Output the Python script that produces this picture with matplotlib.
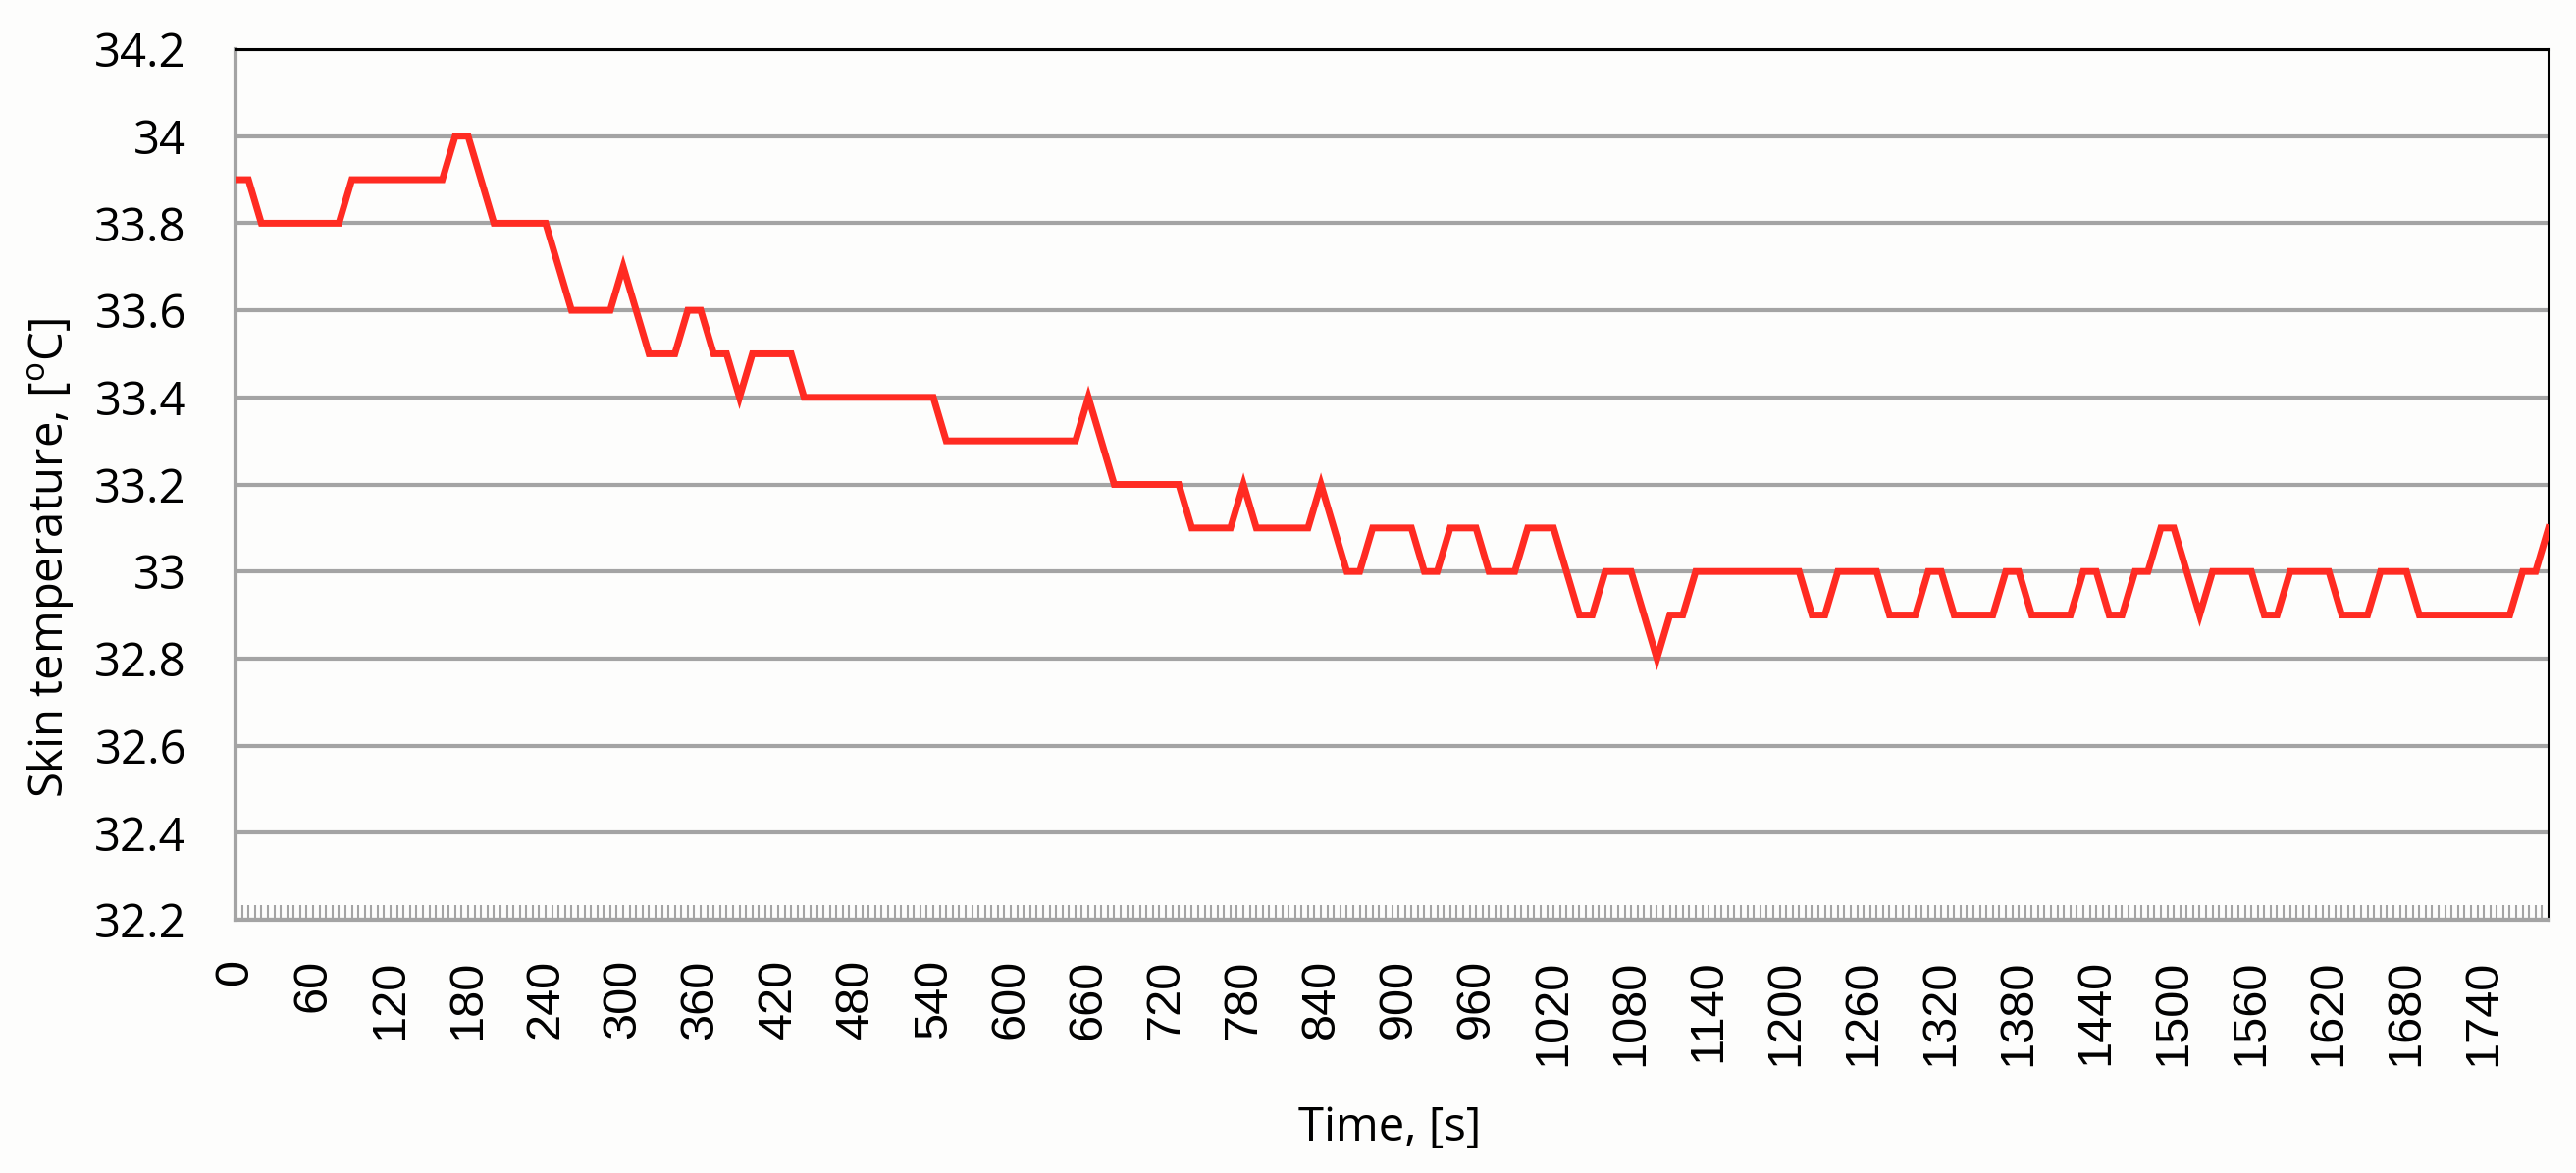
import numpy as np
import matplotlib
matplotlib.use('Agg')
import matplotlib.pyplot as plt

# skin temperature, one reading every 10 s (0 ... 1790 s)
time_s = list(range(0, 1800, 10))
temp_c = [
    33.9, 33.9, 33.8, 33.8, 33.8, 33.8,   # 0-50
    33.8, 33.8, 33.8, 33.9, 33.9, 33.9,   # 60-110
    33.9, 33.9, 33.9, 33.9, 33.9, 34.0,   # 120-170
    34.0, 33.9, 33.8, 33.8, 33.8, 33.8,   # 180-230
    33.8, 33.7, 33.6, 33.6, 33.6, 33.6,   # 240-290
    33.7, 33.6, 33.5, 33.5, 33.5, 33.6,   # 300-350
    33.6, 33.5, 33.5, 33.4, 33.5, 33.5,   # 360-410
    33.5, 33.5, 33.4, 33.4, 33.4, 33.4,   # 420-470
    33.4, 33.4, 33.4, 33.4, 33.4, 33.4,   # 480-530
    33.4, 33.3, 33.3, 33.3, 33.3, 33.3,   # 540-590
    33.3, 33.3, 33.3, 33.3, 33.3, 33.3,   # 600-650
    33.4, 33.3, 33.2, 33.2, 33.2, 33.2,   # 660-710
    33.2, 33.2, 33.1, 33.1, 33.1, 33.1,   # 720-770
    33.2, 33.1, 33.1, 33.1, 33.1, 33.1,   # 780-830
    33.2, 33.1, 33.0, 33.0, 33.1, 33.1,   # 840-890
    33.1, 33.1, 33.0, 33.0, 33.1, 33.1,   # 900-950
    33.1, 33.0, 33.0, 33.0, 33.1, 33.1,   # 960-1010
    33.1, 33.0, 32.9, 32.9, 33.0, 33.0,   # 1020-1070
    33.0, 32.9, 32.8, 32.9, 32.9, 33.0,   # 1080-1130
    33.0, 33.0, 33.0, 33.0, 33.0, 33.0,   # 1140-1190
    33.0, 33.0, 32.9, 32.9, 33.0, 33.0,   # 1200-1250
    33.0, 33.0, 32.9, 32.9, 32.9, 33.0,   # 1260-1310
    33.0, 32.9, 32.9, 32.9, 32.9, 33.0,   # 1320-1370
    33.0, 32.9, 32.9, 32.9, 32.9, 33.0,   # 1380-1430
    33.0, 32.9, 32.9, 33.0, 33.0, 33.1,   # 1440-1490
    33.1, 33.0, 32.9, 33.0, 33.0, 33.0,   # 1500-1550
    33.0, 32.9, 32.9, 33.0, 33.0, 33.0,   # 1560-1610
    33.0, 32.9, 32.9, 32.9, 33.0, 33.0,   # 1620-1670
    33.0, 32.9, 32.9, 32.9, 32.9, 32.9,   # 1680-1730
    32.9, 32.9, 32.9, 33.0, 33.0, 33.1,   # 1740-1790
]

x_ticks = list(range(0, 1741, 60))
x_minor = list(range(0, 1791, 5))
y_ticks = [32.2, 32.4, 32.6, 32.8, 33.0, 33.2, 33.4, 33.6, 33.8, 34.0, 34.2]
y_labels = ['32.2', '32.4', '32.6', '32.8', '33', '33.2', '33.4', '33.6',
            '33.8', '34', '34.2']

GRID = '#a4a4a4'
RED = '#ff2b22'
TITLE_FONT = ['Open Sans', 'DejaVu Sans']
NUM_FONT = ['Liberation Sans', 'DejaVu Sans']

plt.rcParams['mathtext.fontset'] = 'custom'
plt.rcParams['mathtext.rm'] = 'Open Sans'

fig = plt.figure(figsize=(26.25, 11.95), dpi=100)
fig.patch.set_facecolor('#fdfdfc')
ax = fig.add_axes([240 / 2625, 1 - 937 / 1195, 2357 / 2625, 887 / 1195])
ax.set_facecolor('#fdfdfc')

ax.plot(time_s, temp_c, '-', color=RED, lw=5, solid_joinstyle='miter',
        zorder=3)

ax.set_xlim(0, 1790)
ax.set_ylim(32.2, 34.2)

# horizontal grid
ax.set_yticks(y_ticks)
ax.set_yticklabels(y_labels, family=TITLE_FONT, fontsize=34)
ax.yaxis.grid(True, color=GRID, lw=3)
ax.set_axisbelow(True)

# category style x axis
ax.set_xticks(x_ticks)
ax.set_xticklabels([str(t) for t in x_ticks], family=NUM_FONT, fontsize=35,
                   rotation=90, va='top', ha='center')
ax.set_xticks(x_minor, minor=True)
ax.tick_params(axis='x', which='both', direction='in', length=11, width=1.5,
               color=GRID, pad=29)
ax.tick_params(axis='y', which='both', direction='in', length=0, pad=36)

for side in ['left', 'bottom']:
    ax.spines[side].set_color(GRID)
    ax.spines[side].set_linewidth(3)
for side in ['top', 'right']:
    ax.spines[side].set_color('black')
    ax.spines[side].set_linewidth(2.2)

ax.set_ylabel('Skin temperature, [$^{\\mathrm{o}}$C]', family=TITLE_FONT,
              fontsize=34)
ax.yaxis.set_label_coords(-0.069, 0.415)
ax.set_xlabel('Time, [s]', family=TITLE_FONT, fontsize=34)
ax.xaxis.set_label_coords(0.499, -0.212)

fig.savefig('out.png', dpi=100, facecolor=fig.get_facecolor())
